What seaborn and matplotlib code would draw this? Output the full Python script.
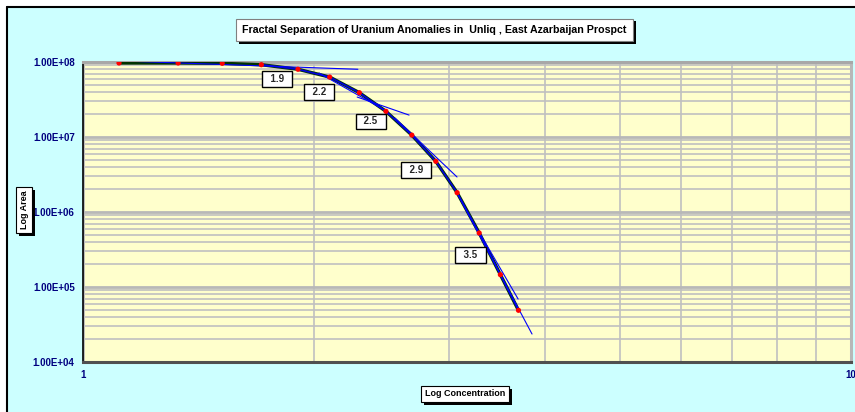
import matplotlib
matplotlib.use("Agg")
import matplotlib.pyplot as plt
import matplotlib.patheffects as pe
from matplotlib.patches import Rectangle
from matplotlib.ticker import FixedLocator, LogLocator, NullFormatter, FuncFormatter
import numpy as np
import pandas as pd
import seaborn as sns

# measured concentration / area pairs
conc = [1.114, 1.33, 1.518, 1.707, 1.905, 2.095, 2.29, 2.48, 2.68, 2.88, 3.07, 3.28, 3.495, 3.69]
area = [9.7e7, 9.7e7, 9.6e7, 9.2e7, 8.0e7, 6.3e7, 3.9e7, 2.2e7, 1.06e7, 4.74e6, 1.81e6, 5.25e5, 1.46e5, 4.89e4]

# fitted segment lines (start / end)
fit_x0 = [1.162, 2.029, 2.275, 2.548, 3.279, 3.069]
fit_y0 = [1.02e8, 7.13e7, 3.41e7, 1.79e7, 5.41e5, 1.79e6]
fit_x1 = [2.28, 2.496, 2.658, 3.069, 3.686, 3.843]
fit_y1 = [8.0e7, 2.15e7, 1.96e7, 2.93e6, 6.92e4, 2.36e4]

# fractal dimension labels
dim_labels = ["1.9", "2.2", "2.5", "2.9", "3.5"]
dim_x = [1.789, 2.029, 2.37, 2.713, 3.194]
dim_y = [5.93e7, 3.98e7, 1.61e7, 3.63e6, 2.67e5]

y_ticks = [1e4, 1e5, 1e6, 1e7, 1e8]
x_ticks = [1, 10]

sns.set_theme(style="white")
plt.rcParams["font.family"] = ["Liberation Sans", "DejaVu Sans"]
plt.rcParams["font.weight"] = "bold"

df = pd.DataFrame({"conc": conc, "area": area})

W, H = 855, 412
fig = plt.figure(figsize=(W / 100, H / 100), dpi=100)
fig.patch.set_facecolor("white")

# chart area background
fig.patches.append(Rectangle((7 / W, 0), 1, 1 - 7 / H, transform=fig.transFigure,
                             facecolor="#CCFFFF", edgecolor="none", zorder=-10))
fig.lines.append(plt.Line2D([7 / W, 7 / W], [0, 1 - 7 / H], transform=fig.transFigure, color="black", lw=1.5))
fig.lines.append(plt.Line2D([7 / W, 1], [1 - 7 / H, 1 - 7 / H], transform=fig.transFigure, color="black", lw=1.5))

ax = fig.add_axes([83 / W, (H - 362) / H, (851 - 83) / W, 300 / H])
ax.set_facecolor("#FFFFCC")
ax.set_xscale("log")
ax.set_yscale("log")
ax.set_xlim(1, 10)
ax.set_ylim(1e4, 1e8)

ax.yaxis.set_major_locator(FixedLocator(y_ticks))
ax.yaxis.set_minor_locator(LogLocator(base=10, subs=np.arange(2, 10)))
ax.yaxis.set_minor_formatter(NullFormatter())
ax.yaxis.set_major_formatter(FuncFormatter(lambda v, p: "{:.2E}".format(v)))
ax.xaxis.set_major_locator(FixedLocator(x_ticks))
ax.xaxis.set_minor_locator(LogLocator(base=10, subs=np.arange(2, 10)))
ax.xaxis.set_minor_formatter(NullFormatter())
ax.xaxis.set_major_formatter(FuncFormatter(lambda v, p: "{:g}".format(v)))

ax.grid(True, which="minor", color="#C0C0C0", lw=1.2)
ax.grid(True, which="major", color="#B8B8B8", lw=2.0)
ax.tick_params(axis="both", which="major", labelsize=7, labelcolor="#000080",
               length=3, width=1, color="black", direction="out", pad=3)
ax.tick_params(axis="both", which="minor", length=0)
for lab in ax.get_xticklabels() + ax.get_yticklabels():
    lab.set_fontweight("bold")

ax.spines["left"].set_color("black")
ax.spines["left"].set_linewidth(1.2)
ax.spines["bottom"].set_color("#505050")
ax.spines["bottom"].set_linewidth(2.2)
ax.spines["top"].set_color("#A8A8A8")
ax.spines["top"].set_linewidth(2.2)
ax.spines["right"].set_color("#B8B8B8")
ax.spines["right"].set_linewidth(2.2)

# main curve
sns.lineplot(data=df, x="conc", y="area", ax=ax, color="#003300", lw=2.4, sort=False, zorder=3)
sns.lineplot(data=df.iloc[3:], x="conc", y="area", ax=ax, color="#0000DD", lw=1.2, sort=False, zorder=4)

# fitted segments
for i in range(len(fit_x0)):
    seg = pd.DataFrame({"conc": [fit_x0[i], fit_x1[i]], "area": [fit_y0[i], fit_y1[i]]})
    sns.lineplot(data=seg, x="conc", y="area", ax=ax, color="#0000FF", lw=0.8, sort=False, zorder=5)

sns.scatterplot(data=df, x="conc", y="area", ax=ax, color="#FF0000", s=14, edgecolor="none", zorder=6)

ax.set_xlabel("")
ax.set_ylabel("")

shadow = [pe.withSimplePatchShadow(offset=(2, -2), shadow_rgbFace="black", alpha=1)]

for t, x, y in zip(dim_labels, dim_x, dim_y):
    ax.text(x, y, "  " + t + "  ", ha="center", va="center", fontsize=7, fontweight="bold", zorder=7,
            bbox=dict(boxstyle="square,pad=0.3", fc="white", ec="black", lw=1.0))

title = fig.text(434.5 / W, 1 - 30 / H,
                 "Fractal Separation of Uranium Anomalies in  Unliq , East Azarbaijan Prospct",
                 ha="center", va="center", fontsize=7.7, fontweight="bold", color="black",
                 bbox=dict(boxstyle="square,pad=0.6", fc="white", ec="#808080", lw=0.8))
title.get_bbox_patch().set_path_effects(shadow)

xl = fig.text(465 / W, 1 - 394 / H, "Log Concentration", ha="center", va="center",
              fontsize=6.5, fontweight="bold", color="black",
              bbox=dict(boxstyle="square,pad=0.4", fc="white", ec="black", lw=0.8))
xl.get_bbox_patch().set_path_effects(shadow)

yl = fig.text(24 / W, 1 - 210 / H, "Log Area", ha="center", va="center", rotation=90,
              fontsize=6.5, fontweight="bold", color="black",
              bbox=dict(boxstyle="square,pad=0.4", fc="white", ec="black", lw=0.8))
yl.get_bbox_patch().set_path_effects(shadow)

fig.savefig("out.png", dpi=100)
